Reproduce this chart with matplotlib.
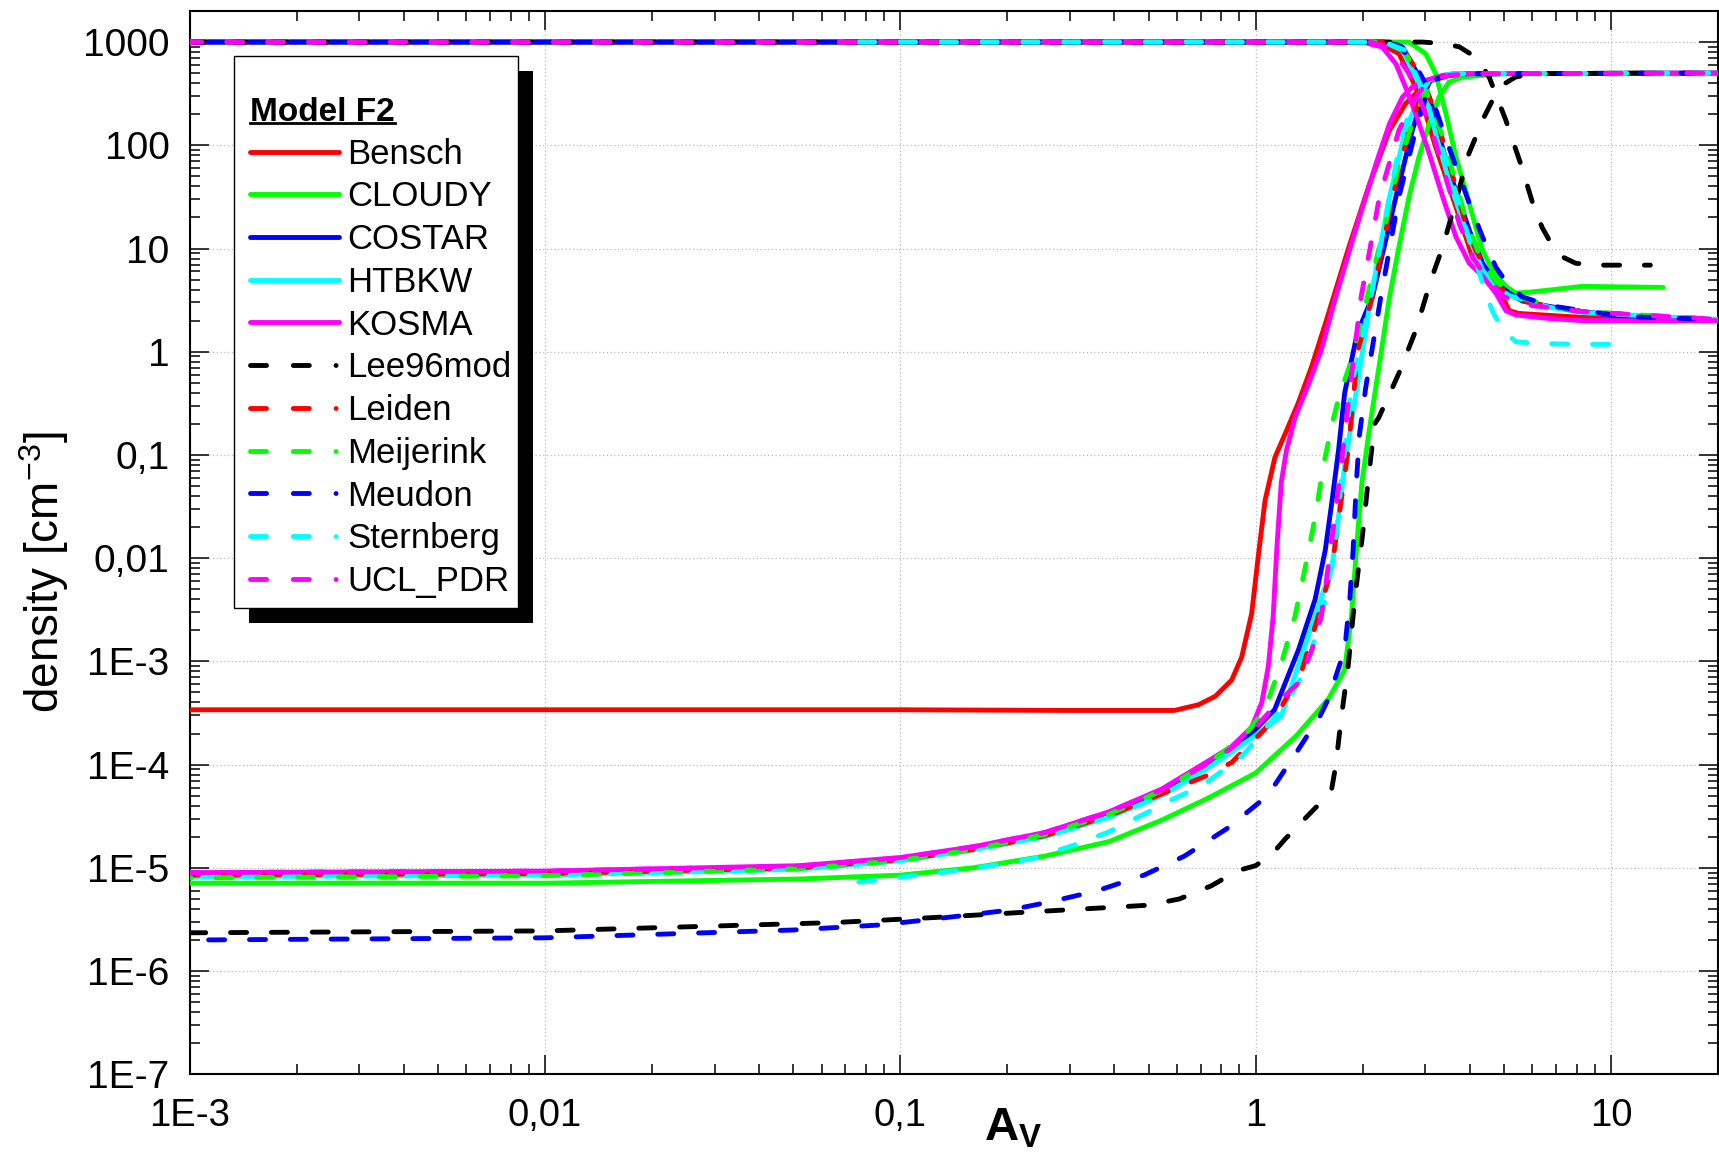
import matplotlib
matplotlib.use('Agg')
import matplotlib.pyplot as plt
import numpy as np
from matplotlib.lines import Line2D
from matplotlib.patches import Rectangle
from matplotlib.ticker import FixedLocator, FixedFormatter, LogLocator, NullFormatter

plt.rcParams['font.family'] = ['Liberation Sans', 'DejaVu Sans']
plt.rcParams['mathtext.fontset'] = 'custom'
plt.rcParams['mathtext.rm'] = 'Liberation Sans'
plt.rcParams['mathtext.bf'] = 'Liberation Sans:bold'
plt.rcParams['mathtext.it'] = 'Liberation Sans:italic'

# ---- data: A_V and density for H (falling) and H2 (rising) per model ----
bensch_av_h = [0.001, 2.2, 2.53, 2.76, 2.95, 3.21, 3.5, 3.82, 4.07, 4.44, 4.84, 5.17, 5.5, 8.3, 20]
bensch_h = [1000, 1000, 771, 426, 253, 96, 40, 16.2, 8.3, 5.8, 4.0, 2.5, 2.35, 2.15, 2.05]
bensch_av_h2 = [0.001, 0.1, 0.3, 0.59, 0.69, 0.77, 0.856, 0.913, 0.974, 1.017, 1.062, 1.133, 1.21,
                1.318, 1.437, 1.58, 1.83, 2.09, 2.38, 2.64, 2.76, 2.95, 3.2, 3.6, 20]
bensch_h2 = [3.4e-4, 3.4e-4, 3.35e-4, 3.35e-4, 3.8e-4, 4.6e-4, 6.6e-4, 1.1e-3, 2.9e-3, 1.05e-2,
             3.6e-2, 9.5e-2, 0.16, 0.32, 0.72, 2.0, 10.4, 42, 140, 253, 294, 370, 450, 494, 500]

cloudy_av_h = [0.001, 2.7, 3.01, 3.21, 3.43, 3.66, 3.9, 4.16, 4.35, 4.63, 5.06, 5.4, 6.0, 8.3, 14]
cloudy_h = [1000, 1000, 771, 494, 203, 77, 36.6, 16.2, 9.6, 6.2, 4.3, 3.7, 3.8, 4.3, 4.2]
cloudy_av_h2 = [0.001, 0.01, 0.052, 0.1, 0.16, 0.255, 0.387, 0.544, 0.74, 1.0, 1.30, 1.6, 1.78,
                1.86, 1.92, 1.99, 2.09, 2.23, 2.38, 2.53, 2.70, 2.88, 3.08, 3.28, 3.5, 3.82, 4.35, 5.0, 14]
cloudy_h2 = [7.1e-6, 7.1e-6, 7.8e-6, 8.5e-6, 1.0e-5, 1.3e-5, 1.8e-5, 2.9e-5, 4.8e-5, 8.3e-5,
             1.9e-4, 4.3e-4, 8.3e-4, 2.75e-3, 1.2e-2, 5.4e-2, 0.18, 0.77, 3.4, 10.4, 31.6, 77,
             162, 294, 410, 458, 476, 494, 500]

costar_av_h = [0.001, 2.3, 2.59, 2.82, 3.08, 3.25, 3.5, 3.99, 4.35, 4.74, 5.17, 5.63, 6.7, 8.3, 11.0, 20]
costar_h = [1000, 1000, 895, 530, 294, 140, 57, 15.1, 7.2, 4.6, 3.7, 3.1, 2.75, 2.45, 2.19, 2.05]
costar_av_h2 = [0.001, 0.01, 0.052, 0.1, 0.16, 0.255, 0.387, 0.544, 0.74, 0.974, 1.13, 1.32, 1.47,
                1.57, 1.64, 1.71, 1.78, 1.93, 2.13, 2.48, 2.76, 2.95, 3.1, 3.5, 4.0, 20]
costar_h2 = [8.7e-6, 9.0e-6, 1.02e-5, 1.22e-5, 1.55e-5, 2.1e-5, 3.3e-5, 5.4e-5, 1.02e-4, 2.0e-4,
             3.4e-4, 1.3e-3, 4.0e-3, 1.2e-2, 3.6e-2, 0.11, 0.4, 1.5, 3.4, 31.6, 140, 294, 426,
             476, 494, 500]

htbkw_av_h = [0.001, 2.3, 2.59, 2.82, 3.08, 3.25, 3.5, 3.9, 4.35, 4.74, 5.17, 6.7, 8.3, 20]
htbkw_h = [1000, 1000, 830, 460, 230, 110, 46, 15.1, 6.2, 4.3, 3.5, 2.7, 2.4, 2.05]
htbkw_av_h2 = [0.001, 0.01, 0.052, 0.1, 0.16, 0.255, 0.387, 0.544, 0.74, 0.974, 1.18, 1.47, 1.64,
               1.71, 1.78, 1.91, 2.11, 2.38, 2.64, 2.88, 3.08, 3.4, 4.0, 20]
htbkw_h2 = [8.2e-6, 8.5e-6, 9.7e-6, 1.17e-5, 1.5e-5, 2.0e-5, 3.1e-5, 5.0e-5, 9.5e-5, 1.8e-4,
            2.95e-4, 2.75e-3, 8.3e-3, 2.5e-2, 7.8e-2, 0.37, 3.4, 31.6, 140, 294, 426, 480, 494, 500]

kosma_av_h = [0.001, 2.0, 2.27, 2.48, 2.64, 2.82, 3.08, 3.36, 3.66, 3.99, 4.35, 4.74, 5.06, 5.4,
              6.7, 8.3, 20]
kosma_h = [1000, 1000, 895, 617, 367, 203, 83, 31.6, 13.0, 7.2, 5.4, 3.7, 2.5, 2.27, 2.1, 2.0, 2.0]
kosma_av_h2 = [0.001, 0.01, 0.052, 0.1, 0.16, 0.255, 0.387, 0.544, 0.74, 0.856, 0.974, 1.04,
               1.085, 1.12, 1.146, 1.18, 1.22, 1.29, 1.41, 1.53, 1.68, 1.91, 2.18, 2.38, 2.59,
               2.76, 3.01, 3.36, 3.82, 20]
kosma_h2 = [9.0e-6, 9.3e-6, 1.05e-5, 1.26e-5, 1.6e-5, 2.2e-5, 3.5e-5, 5.8e-5, 1.1e-4, 1.5e-4,
            2.3e-4, 4.0e-4, 8.9e-4, 2.75e-3, 1.2e-2, 5.4e-2, 0.11, 0.23, 0.49, 1.04, 3.4, 15.1,
            66, 162, 294, 367, 426, 476, 494, 500]

lee_av_h = [0.001, 2.95, 3.35, 3.74, 4.2, 4.54, 5.06, 5.57, 6.07, 6.4, 6.8, 7.3, 7.95, 9.2, 12.9]
lee_h = [1000, 1000, 970, 900, 700, 458, 174, 66, 25, 16, 11, 8.3, 7.2, 6.9, 6.9]
lee_av_h2 = [0.001, 0.01, 0.065, 0.124, 0.219, 0.372, 0.50, 0.61, 0.75, 0.89, 1.0, 1.12, 1.21,
             1.46, 1.63, 1.68, 1.74, 1.82, 1.90, 2.0, 2.07, 2.16, 2.22, 2.53, 2.82, 3.11, 3.36,
             3.66, 3.98, 4.39, 4.84, 5.38, 6.0, 12.9]
lee_h2 = [2.35e-6, 2.45e-6, 2.95e-6, 3.3e-6, 3.7e-6, 4.1e-6, 4.35e-6, 5.0e-6, 6.7e-6, 9.4e-6,
          1.05e-5, 1.4e-5, 1.9e-5, 3.7e-5, 5.4e-5, 9.8e-5, 2.8e-4, 8.9e-4, 4.0e-3, 1.74e-2,
          5.4e-2, 0.2, 0.23, 0.62, 1.6, 4.9, 10.4, 29, 83, 187, 366, 458, 494, 500]

leiden_av_h = [0.001, 2.3, 2.59, 2.88, 3.14, 3.3, 3.55, 3.9, 4.16, 4.5, 4.95, 5.4, 6.7, 8.3, 20]
leiden_h = [1000, 1000, 870, 500, 250, 140, 57, 17, 9.6, 6.0, 4.0, 3.2, 2.75, 2.45, 2.05]
leiden_av_h2 = [0.001, 0.01, 0.052, 0.1, 0.16, 0.255, 0.387, 0.544, 0.74, 0.856, 1.06, 1.18, 1.35,
                1.50, 1.64, 1.74, 1.82, 1.88, 1.94, 2.13, 2.43, 2.70, 2.91, 3.1, 3.5, 4.0, 20]
leiden_h2 = [8.5e-6, 8.8e-6, 1.0e-5, 1.2e-5, 1.5e-5, 2.05e-5, 3.2e-5, 5.2e-5, 8.0e-5, 1.05e-4,
             2.2e-4, 3.6e-4, 8.3e-4, 2.75e-3, 8.3e-3, 3.6e-2, 0.11, 0.34, 1.04, 3.4, 31.6, 140,
             294, 426, 480, 494, 500]

meij_av_h = [0.001, 2.3, 2.59, 2.88, 3.14, 3.36, 3.6, 3.95, 4.3, 4.7, 5.2, 6.7, 8.3, 20]
meij_h = [1000, 1000, 850, 480, 240, 120, 52, 17, 8.0, 5.0, 3.6, 2.8, 2.45, 2.05]
meij_av_h2 = [0.001, 0.01, 0.052, 0.1, 0.16, 0.255, 0.387, 0.544, 0.74, 0.93, 1.06, 1.18, 1.29,
              1.38, 1.47, 1.55, 1.64, 1.72, 1.83, 2.04, 2.18, 2.32, 2.53, 2.82, 3.08, 3.5, 4.0, 20]
meij_h2 = [8.0e-6, 8.4e-6, 9.8e-6, 1.18e-5, 1.5e-5, 2.1e-5, 3.3e-5, 5.6e-5, 1.05e-4, 1.9e-4,
           3.4e-4, 9.5e-4, 2.75e-3, 8.3e-3, 2.5e-2, 7.8e-2, 0.2, 0.38, 0.7, 2.9, 7.7, 17.5, 66,
           203, 367, 476, 494, 500]

meudon_av_h = [0.001, 2.3, 2.53, 2.82, 3.08, 3.36, 3.66, 3.99, 4.35, 4.74, 5.17, 5.63, 6.7, 8.3, 11.0, 20]
meudon_h = [1000, 1000, 930, 590, 340, 142, 62, 27.5, 12.9, 6.6, 4.3, 3.4, 2.8, 2.5, 2.19, 2.05]
meudon_av_h2 = [0.001, 0.01, 0.05, 0.088, 0.115, 0.156, 0.203, 0.265, 0.358, 0.485, 0.63, 0.83,
                1.08, 1.30, 1.52, 1.6, 1.78, 1.84, 1.88, 1.92, 1.96, 2.04, 2.25, 2.53, 2.82,
                3.01, 3.14, 3.5, 4.0, 20]
meudon_h2 = [2.0e-6, 2.1e-6, 2.5e-6, 2.8e-6, 3.1e-6, 3.5e-6, 3.9e-6, 4.7e-6, 6.0e-6, 8.5e-6,
             1.3e-5, 2.4e-5, 5.0e-5, 1.3e-4, 3.0e-4, 4.3e-4, 1.3e-3, 4.0e-3, 1.2e-2, 5.4e-2,
             0.16, 0.45, 3.4, 31.6, 140, 294, 426, 476, 494, 500]

stern_av_h = [0.072, 2.3, 2.64, 2.95, 3.21, 3.5, 3.82, 4.07, 4.35, 4.63, 4.95, 5.4, 6.27, 8.3, 11.0]
stern_h = [1000, 1000, 830, 340, 140, 60, 20.4, 9.6, 4.6, 2.5, 1.62, 1.25, 1.2, 1.18, 1.18]
stern_av_h2 = [0.072, 0.1, 0.134, 0.18, 0.236, 0.308, 0.387, 0.5, 0.59, 0.71, 0.92, 1.18, 1.32,
               1.44, 1.57, 1.67, 1.74, 1.82, 1.87, 2.11, 2.38, 2.59, 2.85, 3.14, 3.6, 20]
stern_h2 = [7.1e-6, 8.1e-6, 9.1e-6, 1.05e-5, 1.23e-5, 1.66e-5, 2.24e-5, 3.5e-5, 4.7e-5, 6.3e-5,
            1.23e-4, 3.4e-4, 6.2e-4, 1.3e-3, 4.0e-3, 1.2e-2, 5.4e-2, 0.23, 0.5, 3.4, 31.6, 140,
            294, 458, 494, 500]

ucl_av_h = [0.001, 2.1, 2.4, 2.7, 2.95, 3.2, 3.45, 3.75, 4.1, 4.5, 5.0, 6.0, 8.3, 20]
ucl_h = [1000, 1000, 880, 500, 240, 110, 45, 17, 8.0, 5.0, 3.4, 2.8, 2.45, 2.05]
ucl_av_h2 = [0.001, 0.01, 0.052, 0.1, 0.16, 0.255, 0.387, 0.544, 0.74, 0.856, 1.02, 1.18, 1.32,
             1.44, 1.53, 1.60, 1.67, 1.74, 1.83, 1.98, 2.23, 2.53, 2.82, 3.08, 3.5, 4.0, 20]
ucl_h2 = [9.0e-6, 9.3e-6, 1.04e-5, 1.25e-5, 1.6e-5, 2.2e-5, 3.5e-5, 5.7e-5, 1.05e-4, 1.45e-4,
          2.5e-4, 4.3e-4, 6.2e-4, 1.3e-3, 2.75e-3, 8.3e-3, 2.5e-2, 7.8e-2, 0.37, 3.4, 31.6, 140,
          294, 426, 476, 494, 500]

model_names = ['Bensch', 'CLOUDY', 'COSTAR', 'HTBKW', 'KOSMA',
               'Lee96mod', 'Leiden', 'Meijerink', 'Meudon', 'Sternberg', 'UCL_PDR']

y_ticks = [1e-7, 1e-6, 1e-5, 1e-4, 1e-3, 1e-2, 1e-1, 1, 10, 100, 1000]
y_tick_labels = ['1E-7', '1E-6', '1E-5', '1E-4', '1E-3', '0,01', '0,1', '1', '10', '100', '1000']
x_ticks = [1e-3, 1e-2, 1e-1, 1, 10]
x_tick_labels = ['1E-3', '0,01', '0,1', '1', '10']

# ---- styling ----
W, H = 1719, 1161
LW = 3.5
DASH_PLOT = (3.3, 5.1)
DASH_LEGEND = (3.3, 5.5, 3.3, 5.5, 0.01, 5.5)

series = [
    ('Bensch', '#ff0000', False, 0, bensch_av_h, bensch_h, bensch_av_h2, bensch_h2),
    ('CLOUDY', '#00ff00', False, 0, cloudy_av_h, cloudy_h, cloudy_av_h2, cloudy_h2),
    ('COSTAR', '#0000ff', False, 0, costar_av_h, costar_h, costar_av_h2, costar_h2),
    ('HTBKW', '#00ffff', False, 0, htbkw_av_h, htbkw_h, htbkw_av_h2, htbkw_h2),
    ('KOSMA', '#ff00ff', False, 0, kosma_av_h, kosma_h, kosma_av_h2, kosma_h2),
    ('Lee96mod', '#000000', True, 0, lee_av_h, lee_h, lee_av_h2, lee_h2),
    ('Leiden', '#ff0000', True, 1.5, leiden_av_h, leiden_h, leiden_av_h2, leiden_h2),
    ('Meijerink', '#00ff00', True, 3, meij_av_h, meij_h, meij_av_h2, meij_h2),
    ('Meudon', '#0000ff', True, 4.5, meudon_av_h, meudon_h, meudon_av_h2, meudon_h2),
    ('Sternberg', '#00ffff', True, 6.5, stern_av_h, stern_h, stern_av_h2, stern_h2),
    ('UCL_PDR', '#ff00ff', True, 0.8, ucl_av_h, ucl_h, ucl_av_h2, ucl_h2),
]

fig = plt.figure(figsize=(W / 100, H / 100), dpi=100)
ax_l, ax_r, ax_t, ax_b = 189.7, 1718, 11, 1074.3
ax = fig.add_axes([ax_l / W, 1 - ax_b / H, (ax_r - ax_l) / W, (ax_b - ax_t) / H])

handles = []
for name, color, dashed, offset, av_h, n_h, av_h2, n_h2 in series:
    if dashed:
        kw = dict(linestyle=(offset, DASH_PLOT), dash_capstyle='round')
        hkw = dict(linestyle=(0, DASH_LEGEND), dash_capstyle='round')
    else:
        kw = dict(linestyle='-', solid_capstyle='round')
        hkw = dict(kw)
    ax.plot(av_h, n_h, color=color, lw=LW, zorder=3, **kw)
    ax.plot(av_h2, n_h2, color=color, lw=LW, zorder=3, **kw)
    handles.append(Line2D([], [], color=color, lw=LW, **hkw))

ax.set_xscale('log')
ax.set_yscale('log')
ax.set_xlim(1e-3, 20)
ax.set_ylim(1e-7, 2000)

ax.yaxis.set_major_locator(FixedLocator(y_ticks))
ax.yaxis.set_major_formatter(FixedFormatter(y_tick_labels))
ax.xaxis.set_major_locator(FixedLocator(x_ticks))
ax.xaxis.set_major_formatter(FixedFormatter(x_tick_labels))
ax.yaxis.set_minor_locator(LogLocator(base=10, subs=np.arange(2, 10), numticks=30))
ax.xaxis.set_minor_locator(LogLocator(base=10, subs=np.arange(2, 10), numticks=30))
ax.yaxis.set_minor_formatter(NullFormatter())
ax.xaxis.set_minor_formatter(NullFormatter())

ax.tick_params(which='both', direction='in', top=True, right=True, width=1.1, color='black')
ax.tick_params(which='major', length=13.5)
ax.tick_params(which='minor', length=7)
ax.tick_params(axis='y', which='major', labelsize=28, pad=14.5)
ax.tick_params(axis='x', which='major', labelsize=27.5, pad=17)
for sp in ax.spines.values():
    sp.set_linewidth(1.5)

ax.grid(True, which='major', color='#bdbdbd', linestyle=(0, (1, 2)), linewidth=0.9)
ax.set_axisbelow(True)

fig.text(44 / W, 1 - 572 / H, r'density [cm$^{-3}$]', rotation=90, ha='center', va='center',
         fontsize=33)
fig.text(1013 / W, 1 - 1140 / H, r'$\mathbf{A}_{\mathbf{V}}$', ha='center', va='baseline',
         fontsize=34)

# legend box with hard shadow
def ax_x(px):
    return (px - ax_l) / (ax_r - ax_l)

def ax_y(py):
    return (ax_b - py) / (ax_b - ax_t)

box_l, box_t, box_r, box_b = 233.5, 55.9, 517.5, 608.4
shadow = Rectangle((ax_x(box_l + 15), ax_y(box_b + 15)), ax_x(box_r) - ax_x(box_l),
                   ax_y(box_t) - ax_y(box_b), transform=ax.transAxes, facecolor='black',
                   edgecolor='black', lw=0, zorder=4.8, clip_on=False)
box = Rectangle((ax_x(box_l), ax_y(box_b)), ax_x(box_r) - ax_x(box_l), ax_y(box_t) - ax_y(box_b),
                transform=ax.transAxes, facecolor='white', edgecolor='black', lw=1.0,
                zorder=4.9, clip_on=False)
ax.add_patch(shadow)
ax.add_patch(box)

leg = ax.legend(handles, model_names, loc='upper left',
                bbox_to_anchor=(ax_x(250), ax_y(97)), borderaxespad=0, borderpad=0,
                frameon=False, fontsize=25, handlelength=2.55, handletextpad=0.25,
                labelspacing=0.28, title='Model F2', alignment='left',
                title_fontproperties={'weight': 'bold', 'size': 24})
leg.set_zorder(5)

fig.canvas.draw()
renderer = fig.canvas.get_renderer()
tb = leg.get_title().get_window_extent(renderer)
inv = ax.transAxes.inverted()
(ux0, uy), (ux1, _) = inv.transform([(tb.x0, tb.y0 + 5), (tb.x1, tb.y0 + 5)])
ax.add_line(Line2D([ux0, ux1], [uy, uy], transform=ax.transAxes, color='black', lw=2.0,
                   zorder=6, clip_on=False))

fig.savefig('out.png', dpi=100)
